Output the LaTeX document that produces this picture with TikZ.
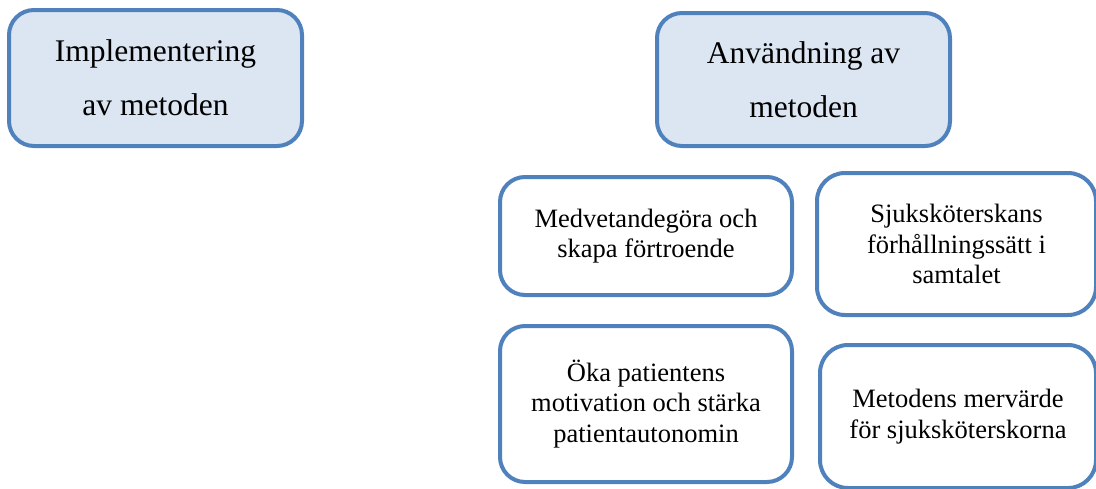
\documentclass[tikz,border=0pt]{standalone}
\usepackage{fontspec}
\setmainfont{Liberation Serif}
\usetikzlibrary{positioning}
\definecolor{boxline}{HTML}{4F81BD}
\definecolor{boxfill}{HTML}{DCE6F2}

\begin{document}
\begin{tikzpicture}[x=1pt, y=-1pt, node distance=27pt,
                    line width=4pt,
                    main box/.style={rectangle,rounded corners=25pt,draw=boxline,align=center,inner sep=0pt},
                    head box/.style={main box,fill=boxfill,minimum width=293pt,font=\fontsize{31.5}{54}\selectfont},
                    sub box/.style={main box,fill=white,font=\fontsize{26.5}{30.5}\selectfont}]

  \useasboundingbox (0,0) rectangle (1096,488);

  \node[head box,minimum height=136pt] (impl) at (155.5,78) {Implementering\\av metoden};
  \node[head box,minimum height=133pt] (anv) at (803.5,79.5) {Användning av\\metoden};

  \node[sub box,minimum width=292pt,minimum height=118pt] (medv) at (646,236) {Medvetandegöra och\\skapa förtroende};
    \node[sub box,minimum width=292pt,minimum height=156pt] (oka) [below=of medv] {Öka patientens\\motivation och stärka\\patientautonomin};
  \node[sub box,minimum width=279pt,minimum height=142pt,rounded corners=28pt] (sjuk) at (956.5,244) {Sjuksköterskans\\förhållningssätt i\\samtalet};
    \node[sub box,minimum width=276pt,minimum height=143pt,rounded corners=28pt] (merv) [below=26pt of sjuk, xshift=1.5pt] {Metodens mervärde\\för sjuksköterskorna};

\end{tikzpicture}
\end{document}
